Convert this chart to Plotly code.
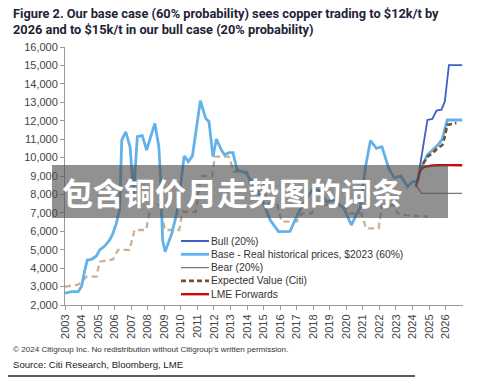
import plotly.graph_objects as go

# ---------------- data ----------------
base_hist_x = [2003.0, 2003.4, 2003.8, 2004.0, 2004.2, 2004.35, 2004.6, 2004.9, 2005.1, 2005.4,
               2005.7, 2005.9, 2006.1, 2006.3, 2006.43, 2006.67, 2006.93, 2007.15, 2007.37, 2007.67,
               2007.93, 2008.43, 2008.67, 2008.77, 2008.9, 2009.05, 2009.46, 2009.76, 2009.96, 2010.2,
               2010.45, 2010.7, 2011.18, 2011.5, 2011.7, 2011.94, 2012.15, 2012.45, 2012.65, 2012.9,
               2013.15, 2013.4, 2013.7, 2013.95, 2014.15, 2014.6, 2015.0, 2015.4, 2015.9, 2016.6,
               2016.9, 2017.2, 2017.6, 2018.0, 2018.4, 2018.8, 2019.2, 2019.85, 2020.3, 2020.85,
               2021.16, 2021.46, 2021.82, 2022.15, 2022.56, 2022.9, 2023.3, 2023.7, 2024.0, 2024.3]
base_hist_y = [2640, 2725, 2725, 3000, 3900, 4440, 4470, 4660, 4990, 5200,
               5530, 5890, 6430, 7160, 10950, 11400, 10590, 8000, 11130, 11190,
               10410, 11860, 10590, 8960, 5500, 4890, 5900, 7000, 8300, 10090,
               9780, 10090, 13090, 12130, 11950, 10050, 11010, 10410, 10140, 10270,
               10270, 9330, 9240, 9150, 8880, 8300, 7520, 6610, 5980, 6000,
               6610, 7160, 7800, 8300, 8200, 7600, 7700, 7250, 6340, 7340,
               9510, 10920, 10500, 10590, 9420, 8900, 9000, 8420, 8700, 8700]

base_fc_x = [2024.3, 2024.5, 2024.9, 2025.5, 2025.8, 2026.1, 2027.0]
base_fc_y = [8700, 9400, 10150, 10650, 11000, 12040, 12040]

bull_x = [2024.3, 2024.9, 2025.2, 2025.45, 2025.75, 2025.95, 2026.2, 2027.0]
bull_y = [8700, 12040, 12100, 12550, 12600, 13040, 15020, 15020]

bear_x = [2024.2, 2024.55, 2027.0]
bear_y = [8500, 8060, 8060]

lme_x = [2024.3, 2024.4, 2024.55, 2024.7, 2025.0, 2025.5, 2027.0]
lme_y = [8700, 9150, 9380, 9480, 9540, 9580, 9580]

ev_fc_x = [2024.2, 2024.5, 2024.9, 2025.2, 2025.5, 2025.8, 2025.95, 2026.1, 2026.65]
ev_fc_y = [8420, 9450, 10050, 10230, 10500, 10680, 11130, 11770, 11880]

ev_hist_x = [2003.0, 2003.8, 2004.3, 2004.9, 2005.1, 2005.9, 2006.2, 2006.9, 2007.2, 2007.9,
             2008.2, 2008.7, 2009.05, 2009.9, 2010.1, 2010.9, 2011.2, 2011.9, 2012.05, 2012.9,
             2013.2, 2014.0, 2014.2, 2015.0, 2015.2, 2015.8, 2016.1, 2017.0, 2017.3, 2017.9,
             2018.2, 2019.9, 2020.2, 2020.9, 2021.2, 2021.95, 2022.15, 2022.85, 2023.1, 2023.6,
             2024.95]
ev_hist_y = [3000, 3100, 3540, 3540, 4350, 4470, 4990, 4990, 6070, 6070,
             7430, 7430, 6070, 6070, 7060, 7060, 9000, 9000, 10050, 10050,
             9240, 9240, 8500, 8500, 7520, 7520, 6520, 6520, 6970, 6970,
             7430, 7430, 6970, 6970, 6160, 6160, 7400, 7400, 6970, 6880,
             6790]

year_ticks = list(range(2003, 2027))
year_labels = [str(y) for y in year_ticks]
y_ticks = list(range(2000, 16001, 1000))

legend_labels = ["Bull (20%)", "Base - Real historical prices, $2023 (60%)", "Bear (20%)",
                 "Expected Value (Citi)", "LME Forwards"]

title_lines = ["Figure 2. Our base case (60% probability) sees copper trading to $12k/t by",
               "2026 and to $15k/t in our bull case (20% probability)"]
footer_1 = "© 2024 Citigroup Inc. No redistribution without Citigroup’s written permission."
footer_2 = "Source: Citi Research, Bloomberg, LME"
banner_text = "包含铜价月走势图的词条"

# ---------------- styles ----------------
C_BULL = "#3e5fc8"
C_BASE = "#62b1ea"
C_BEAR = "#7a7a7a"
C_EVH = "#c9b194"
C_EVF = "#6e5230"
C_LME = "#cc0a0a"

W, H = 500, 386
L, R, T, B = 65, 37, 47, 81
pw, ph = W - L - R, H - T - B


def px(x):
    return (x - L) / pw


def py(y):
    return (H - B - y) / ph


fig = go.Figure()
fig.add_trace(go.Scatter(x=ev_hist_x, y=ev_hist_y, mode="lines",
                         line=dict(color=C_EVH, width=2.3, dash="6px,4px"), showlegend=False))
fig.add_trace(go.Scatter(x=base_hist_x, y=base_hist_y, mode="lines",
                         line=dict(color=C_BASE, width=2.8), showlegend=False))
fig.add_trace(go.Scatter(x=bear_x, y=bear_y, mode="lines",
                         line=dict(color=C_BEAR, width=1.3), showlegend=False))
fig.add_trace(go.Scatter(x=base_fc_x, y=base_fc_y, mode="lines",
                         line=dict(color=C_BASE, width=2.8), showlegend=False))
fig.add_trace(go.Scatter(x=bull_x, y=bull_y, mode="lines",
                         line=dict(color=C_BULL, width=1.8), showlegend=False))
fig.add_trace(go.Scatter(x=lme_x, y=lme_y, mode="lines", line_shape="spline",
                         line=dict(color=C_LME, width=2.4), showlegend=False))
fig.add_trace(go.Scatter(x=ev_fc_x, y=ev_fc_y, mode="lines",
                         line=dict(color=C_EVF, width=2.6, dash="5px,3px"), showlegend=False))

shapes = []
annotations = []

# manual legend
leg_styles = [(C_BULL, 2, "solid"), (C_BASE, 2.8, "solid"), (C_BEAR, 1.3, "solid"),
              (C_EVF, 2.6, "5px,3px"), (C_LME, 2.4, "solid")]
leg_y0 = 241
for i, (lab, (col, w, d)) in enumerate(zip(legend_labels, leg_styles)):
    yy = leg_y0 + i * 13.3
    shapes.append(dict(type="line", xref="paper", yref="paper", x0=px(181), x1=px(209),
                       y0=py(yy), y1=py(yy), line=dict(color=col, width=w, dash=d)))
    annotations.append(dict(text=lab, xref="paper", yref="paper", x=px(209), y=py(yy),
                            xanchor="left", yanchor="middle", showarrow=False,
                            font=dict(family="Liberation Sans, Arial, sans-serif",
                                      size=10.3, color="#333333")))

# title
for i, t in enumerate(title_lines):
    annotations.append(dict(text="<b>" + t + "</b>", xref="paper", yref="paper",
                            x=px(11), y=py(13 + i * 16.5), xanchor="left", yanchor="middle",
                            showarrow=False,
                            font=dict(family="Roboto, sans-serif", size=12.8, color="#1d2437")))

# footer
annotations.append(dict(text=footer_1, xref="paper", yref="paper", x=px(11), y=py(349),
                        xanchor="left", yanchor="middle", showarrow=False,
                        font=dict(family="Liberation Sans, Arial, sans-serif", size=8.1, color="#333")))
annotations.append(dict(text=footer_2, xref="paper", yref="paper", x=px(11), y=py(364),
                        xanchor="left", yanchor="middle", showarrow=False,
                        font=dict(family="Liberation Sans, Arial, sans-serif", size=9.6, color="#222")))
shapes.append(dict(type="line", xref="paper", yref="paper", x0=px(8), x1=px(415),
                   y0=py(376), y1=py(376), line=dict(color="#1d2437", width=1.5)))

# banner overlay
shapes.append(dict(type="rect", xref="paper", yref="paper", x0=px(52), x1=px(448),
                   y0=py(218), y1=py(165), fillcolor="rgba(80,80,80,0.63)", line=dict(width=0),
                   layer="above"))
annotations.append(dict(text="<b>" + banner_text + "</b>", xref="paper", yref="paper",
                        x=px(60), y=py(191), xanchor="left", yanchor="middle", showarrow=False,
                        font=dict(family="Noto Sans CJK SC, sans-serif", size=31, color="white")))

fig.update_layout(
    width=W, height=H, margin=dict(l=L, r=R, t=T, b=B),
    paper_bgcolor="white", plot_bgcolor="white",
    shapes=shapes, annotations=annotations, showlegend=False,
    xaxis=dict(range=[2003, 2027.05], tickvals=year_ticks, ticktext=year_labels, tickangle=-90,
               showgrid=False, zeroline=False, showline=True, linecolor="#9a9a9a", linewidth=1,
               ticks="outside", ticklen=4, tickcolor="#9a9a9a",
               tickfont=dict(family="Liberation Sans, Arial, sans-serif", size=11, color="#444")),
    yaxis=dict(range=[2000, 16000], tickvals=y_ticks, tickformat=",d",
               showgrid=False, zeroline=False, showline=True, linecolor="#9a9a9a", linewidth=1,
               ticks="outside", ticklen=4, tickcolor="#9a9a9a",
               tickfont=dict(family="Liberation Sans, Arial, sans-serif", size=11, color="#444")),
)

fig.write_html("out.html", config={"displayModeBar": False},
               post_script="document.body.style.margin='0';document.body.style.overflow='hidden';")
